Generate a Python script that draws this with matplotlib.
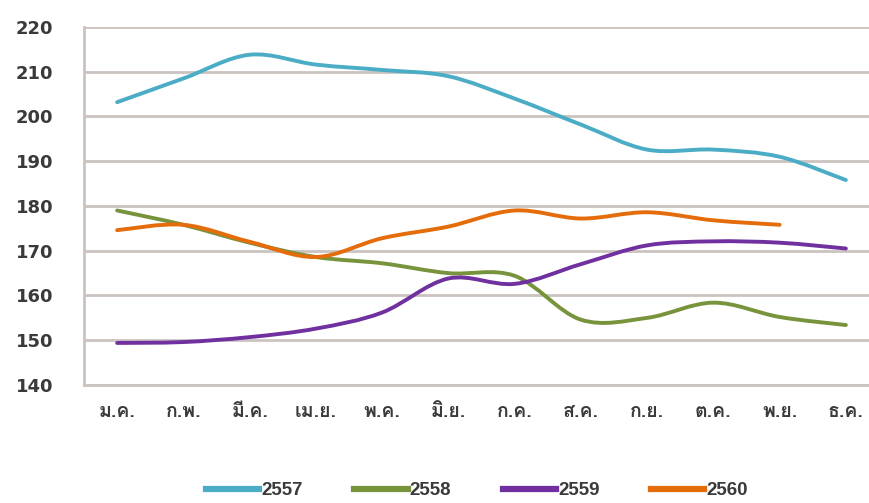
import matplotlib
matplotlib.use("Agg")
import matplotlib.pyplot as plt
from matplotlib import font_manager
from matplotlib.ft2font import FT2Font
from matplotlib.path import Path
from matplotlib.patches import PathPatch
from matplotlib.lines import Line2D
import numpy as np

months = ["ม.ค.", "ก.พ.", "มี.ค.", "เม.ย.", "พ.ค.", "มิ.ย.", "ก.ค.", "ส.ค.", "ก.ย.", "ต.ค.", "พ.ย.", "ธ.ค."]
years = ["2557", "2558", "2559", "2560"]
v2557 = [203.2, 208.5, 213.8, 211.6, 210.4, 209.0, 204.0, 198.2, 192.6, 192.6, 191.0, 185.8]
v2558 = [179.0, 175.8, 171.8, 168.6, 167.2, 165.0, 164.4, 154.6, 155.0, 158.4, 155.2, 153.4]
v2559 = [149.4, 149.6, 150.7, 152.6, 156.2, 163.8, 162.6, 167.0, 171.2, 172.1, 171.8, 170.5]
v2560 = [174.6, 175.8, 172.0, 168.6, 172.8, 175.4, 179.0, 177.2, 178.6, 176.8, 175.8]
colors = ["#4BACC6", "#77933C", "#7030A0", "#E46C0A"]
yticks = [140, 150, 160, 170, 180, 190, 200, 210, 220]

# find a font with Thai glyphs
thai_font = None
for f in font_manager.fontManager.ttflist:
    try:
        cm = FT2Font(f.fname).get_charmap()
        if 0x0E21 in cm:
            thai_font = f.name
            break
    except Exception:
        pass
fam = [thai_font, "DejaVu Sans"] if thai_font else ["DejaVu Sans"]

fig = plt.figure(figsize=(8.7, 5.03), dpi=100)
ax = fig.add_axes([84/870, 118/503, 795/870, 358/503])
ax.set_xlim(-0.5, 11.5)
ax.set_ylim(140, 220)
ax.set_yticks(yticks)
ax.set_yticklabels([str(t) for t in yticks], fontsize=13, color="#3A3A3A",
                   fontfamily="DejaVu Sans", fontweight="bold")
ax.set_xticks(range(12))
ax.set_xticklabels(months, fontsize=14, color="#3A3A3A", fontfamily=fam,
                   fontweight="bold")
ax.tick_params(length=0)
ax.tick_params(axis="y", pad=22)
ax.tick_params(axis="x", pad=13)
ax.grid(axis="y", color="#CBC3BF", linewidth=2)
ax.set_axisbelow(True)
for s in ["top", "right"]:
    ax.spines[s].set_visible(False)
for s in ["left", "bottom"]:
    ax.spines[s].set_color("#CBC3BF")
    ax.spines[s].set_linewidth(2)


def smooth_path(ys):
    xs = np.arange(len(ys), dtype=float)
    ys = np.asarray(ys, dtype=float)
    pts = np.column_stack([xs, ys])
    verts = [pts[0]]
    codes = [Path.MOVETO]
    n = len(pts)
    for i in range(n - 1):
        p0 = pts[i - 1] if i > 0 else pts[i]
        p1 = pts[i]
        p2 = pts[i + 1]
        p3 = pts[i + 2] if i + 2 < n else pts[i + 1]
        c1 = p1 + (p2 - p0) / 6.0
        c2 = p2 - (p3 - p1) / 6.0
        verts += [c1, c2, p2]
        codes += [Path.CURVE4] * 3
    return Path(verts, codes)


handles = []
for name, vals, c in zip(years, [v2557, v2558, v2559, v2560], colors):
    patch = PathPatch(smooth_path(vals), facecolor="none", edgecolor=c,
                      linewidth=2.8, capstyle="round", joinstyle="round", zorder=3)
    ax.add_patch(patch)
    handles.append(Line2D([], [], color=c, linewidth=4.5, label=name))

fig.legend(handles=handles, loc="center", bbox_to_anchor=(0.548, 0.024), ncol=4,
           frameon=False, handlelength=2.85, handletextpad=0.1, columnspacing=2.75,
           prop={"family": "Liberation Sans", "size": 13.5, "weight": "bold"},
           labelcolor="#3A3A3A")

fig.savefig("out.png", dpi=100)
